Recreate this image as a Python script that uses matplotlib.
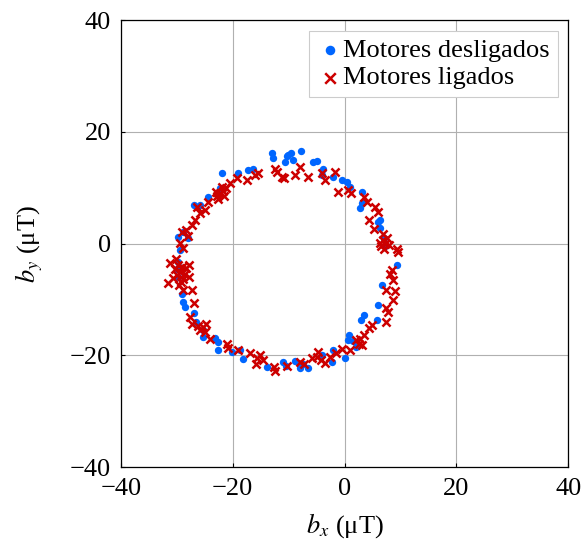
import matplotlib
matplotlib.use("Agg")
import matplotlib.pyplot as plt

plt.rcParams['font.family'] = ['Liberation Serif', 'DejaVu Serif']
plt.rcParams['mathtext.fontset'] = 'stix'

# motores desligados (blue dots)
off_x = [-12.9, -12.8, -10.1, -9.6, -7.7, -10.3, -9.2, -10.6, -5.6, -4.9, -3.8, -19.0, -21.9,
         -17.3, -16.4, -4.0, -2.1, -0.5, 0.4, 1.0, 3.1, 2.8, 3.1, 6.0, 6.4, 6.4, 9.3, 6.7, 6.0,
         5.8, 3.0, 0.8, 0.6, 0.1, -2.0, -2.3, -4.0, -6.5, -8.0, -10.5, -13.9, -18.2, -18.7,
         -20.1, -22.6, -22.6, -23.2, -25.3, -25.3, -28.8, -28.5, -29.1, -29.8, -29.4, -29.8,
         -28.9, -28.0, -27.0, -24.4, -25.8, -22.3, -29.8, -30.0, -7.5, -27.0, 2.0, 1.5, 3.5,
         7.2, 7.0, -26.5, -8.8, -11.0]
off_y = [16.2, 15.4, 15.8, 16.2, 16.6, 15.7, 14.9, 14.6, 14.6, 14.8, 13.4, 12.6, 12.7,
         13.1, 13.3, 12.3, 11.9, 11.4, 11.1, 10.2, 9.3, 6.3, 7.2, 3.8, 4.2, 2.8, -3.8, -7.4, -11.0,
         -13.6, -13.7, -16.4, -17.3, -20.5, -19.1, -21.1, -19.9, -22.3, -22.3, -21.9, -22.0, -20.7, -19.0,
         -19.4, -19.1, -17.6, -16.9, -16.7, -15.5, -10.4, -11.3, -9.0, -3.3, -1.2, 1.2,
         2.1, 1.0, 6.9, 8.4, 6.9, 9.9, -6.0, -4.5, -21.6, -12.5, -18.5, -17.5, -12.8,
         -0.5, 1.0, -14.0, -21.0, -21.2]

# motores ligados (red crosses)
on_x = [-19.3, -17.5, -16.0, -15.5, -12.4, -11.2, -12.0, -10.9, -8.9, -8.0, -6.5, -4.1, -3.5,
        -1.7, -1.1, 0.7, 1.2, 3.4, 4.0, 5.5, 6.0, 4.3, 5.2, 6.9, -20.5,
        -22.3, -21.8, -22.8, -21.5, -23.0, -22.0, -22.6, -21.2,
        -26.4, -25.8, -26.7, -25.0, -27.3, -29.1, -28.4, -28.0, -29.4, -28.9, -24.5,
        -29.4, -29.0, -30.0, -28.6, -29.8, -28.8, -30.4, -29.2, -28.3, -30.6, -31.2, -31.5,
        -27.9, -27.9, -29.6, -30.2,
        -27.3, -28.9, -27.0, -27.6, -27.3, -25.3, -25.8, -24.8, -26.2, -25.0, -24.1, -21.1,
        -20.8, -19.0, -16.9, -15.7, -15.2, -15.8, -14.5, -12.7, -12.4, -10.3,
        -8.0, -7.2, -5.0, -4.7, -5.8, -4.2, -3.5, -2.6, -0.5, -1.5, 1.0, 2.5, 2.0, 3.2, 2.8,
        3.4, 4.9, 4.3, 7.5, 7.5, 7.8, 8.7, 7.5, 9.0, 8.7, 8.4, 8.2, 9.6, 9.3,
        6.9, 7.3, 6.6, 7.6, 7.0, 8.0, 6.4]
on_y = [11.7, 11.4, 12.3, 12.6, 13.4, 11.9, 12.8, 11.7, 12.3, 13.7, 11.9, 12.6, 11.4,
        12.8, 9.3, 9.6, 9.0, 8.4, 7.5, 6.6, 5.7, 4.2, 2.7, 1.8, 10.8,
        9.0, 9.5, 8.5, 8.6, 9.3, 10.2, 8.0, 9.9,
        6.6, 5.4, 4.2, 6.0, 3.3, 2.1, 2.4, 1.4, 0.1, -0.8, 7.5,
        -5.0, -4.2, -5.6, -5.5, -3.8, -6.4, -4.6, -6.8, -4.4, -6.2, -3.5, -7.1,
        -3.8, -6.0, -7.4, -2.8,
        -8.3, -8.3, -10.7, -13.1, -14.3, -14.9, -15.5, -14.3, -14.8, -15.8, -17.0, -17.9,
        -18.6, -19.1, -19.6, -20.5, -20.0, -21.6, -20.8, -22.0, -22.8, -21.9,
        -21.1, -21.5, -20.2, -19.4, -20.5, -20.8, -21.4, -20.2, -18.8, -19.6, -19.1, -17.9, -17.3, -18.2, -17.0,
        -16.4, -14.6, -15.1, -14.0, -11.6, -12.3, -10.1, -8.3, -8.4, -6.5, -4.7, -5.5, -1.5, -0.9,
        0.6, 0.0, -0.5, 1.0, -1.0, -0.3, 0.2]

ticks = [-40, -20, 0, 20, 40]

fig = plt.figure(figsize=(5.81, 5.42), dpi=100)
ax = fig.add_axes([0.208, 0.138, 0.770, 0.825])

ax.scatter(off_x, off_y, s=28, color='#0066ff', marker='o', linewidths=0,
           label='Motores desligados', zorder=3)
ax.scatter(on_x, on_y, s=34, color='#cc0000', marker='x', linewidths=1.8,
           label='Motores ligados', zorder=4)

ax.set_xlim(-40, 40)
ax.set_ylim(-40, 40)
ax.set_xticks(ticks)
ax.set_yticks(ticks)
ax.grid(True, color='#b0b0b0', linewidth=0.8)
ax.set_axisbelow(True)
ax.tick_params(direction='in', length=3, labelsize=19)
ax.tick_params(axis='x', pad=8)
ax.tick_params(axis='y', pad=7)
for sp in ax.spines.values():
    sp.set_linewidth(0.9)

ax.set_xlabel(r'$b_x$ (μT)', fontsize=19, labelpad=8)
ax.set_ylabel(r'$b_y$ (μT)', fontsize=19, labelpad=18)

leg = ax.legend(loc='upper right', fontsize=19, frameon=True, fancybox=False,
                framealpha=1, edgecolor='#cccccc', handletextpad=0.0,
                handlelength=1.0, borderpad=0.3, labelspacing=0.15,
                borderaxespad=0.4, markerscale=1.3)
leg.get_frame().set_linewidth(0.8)

fig.savefig('out.png', dpi=100)
